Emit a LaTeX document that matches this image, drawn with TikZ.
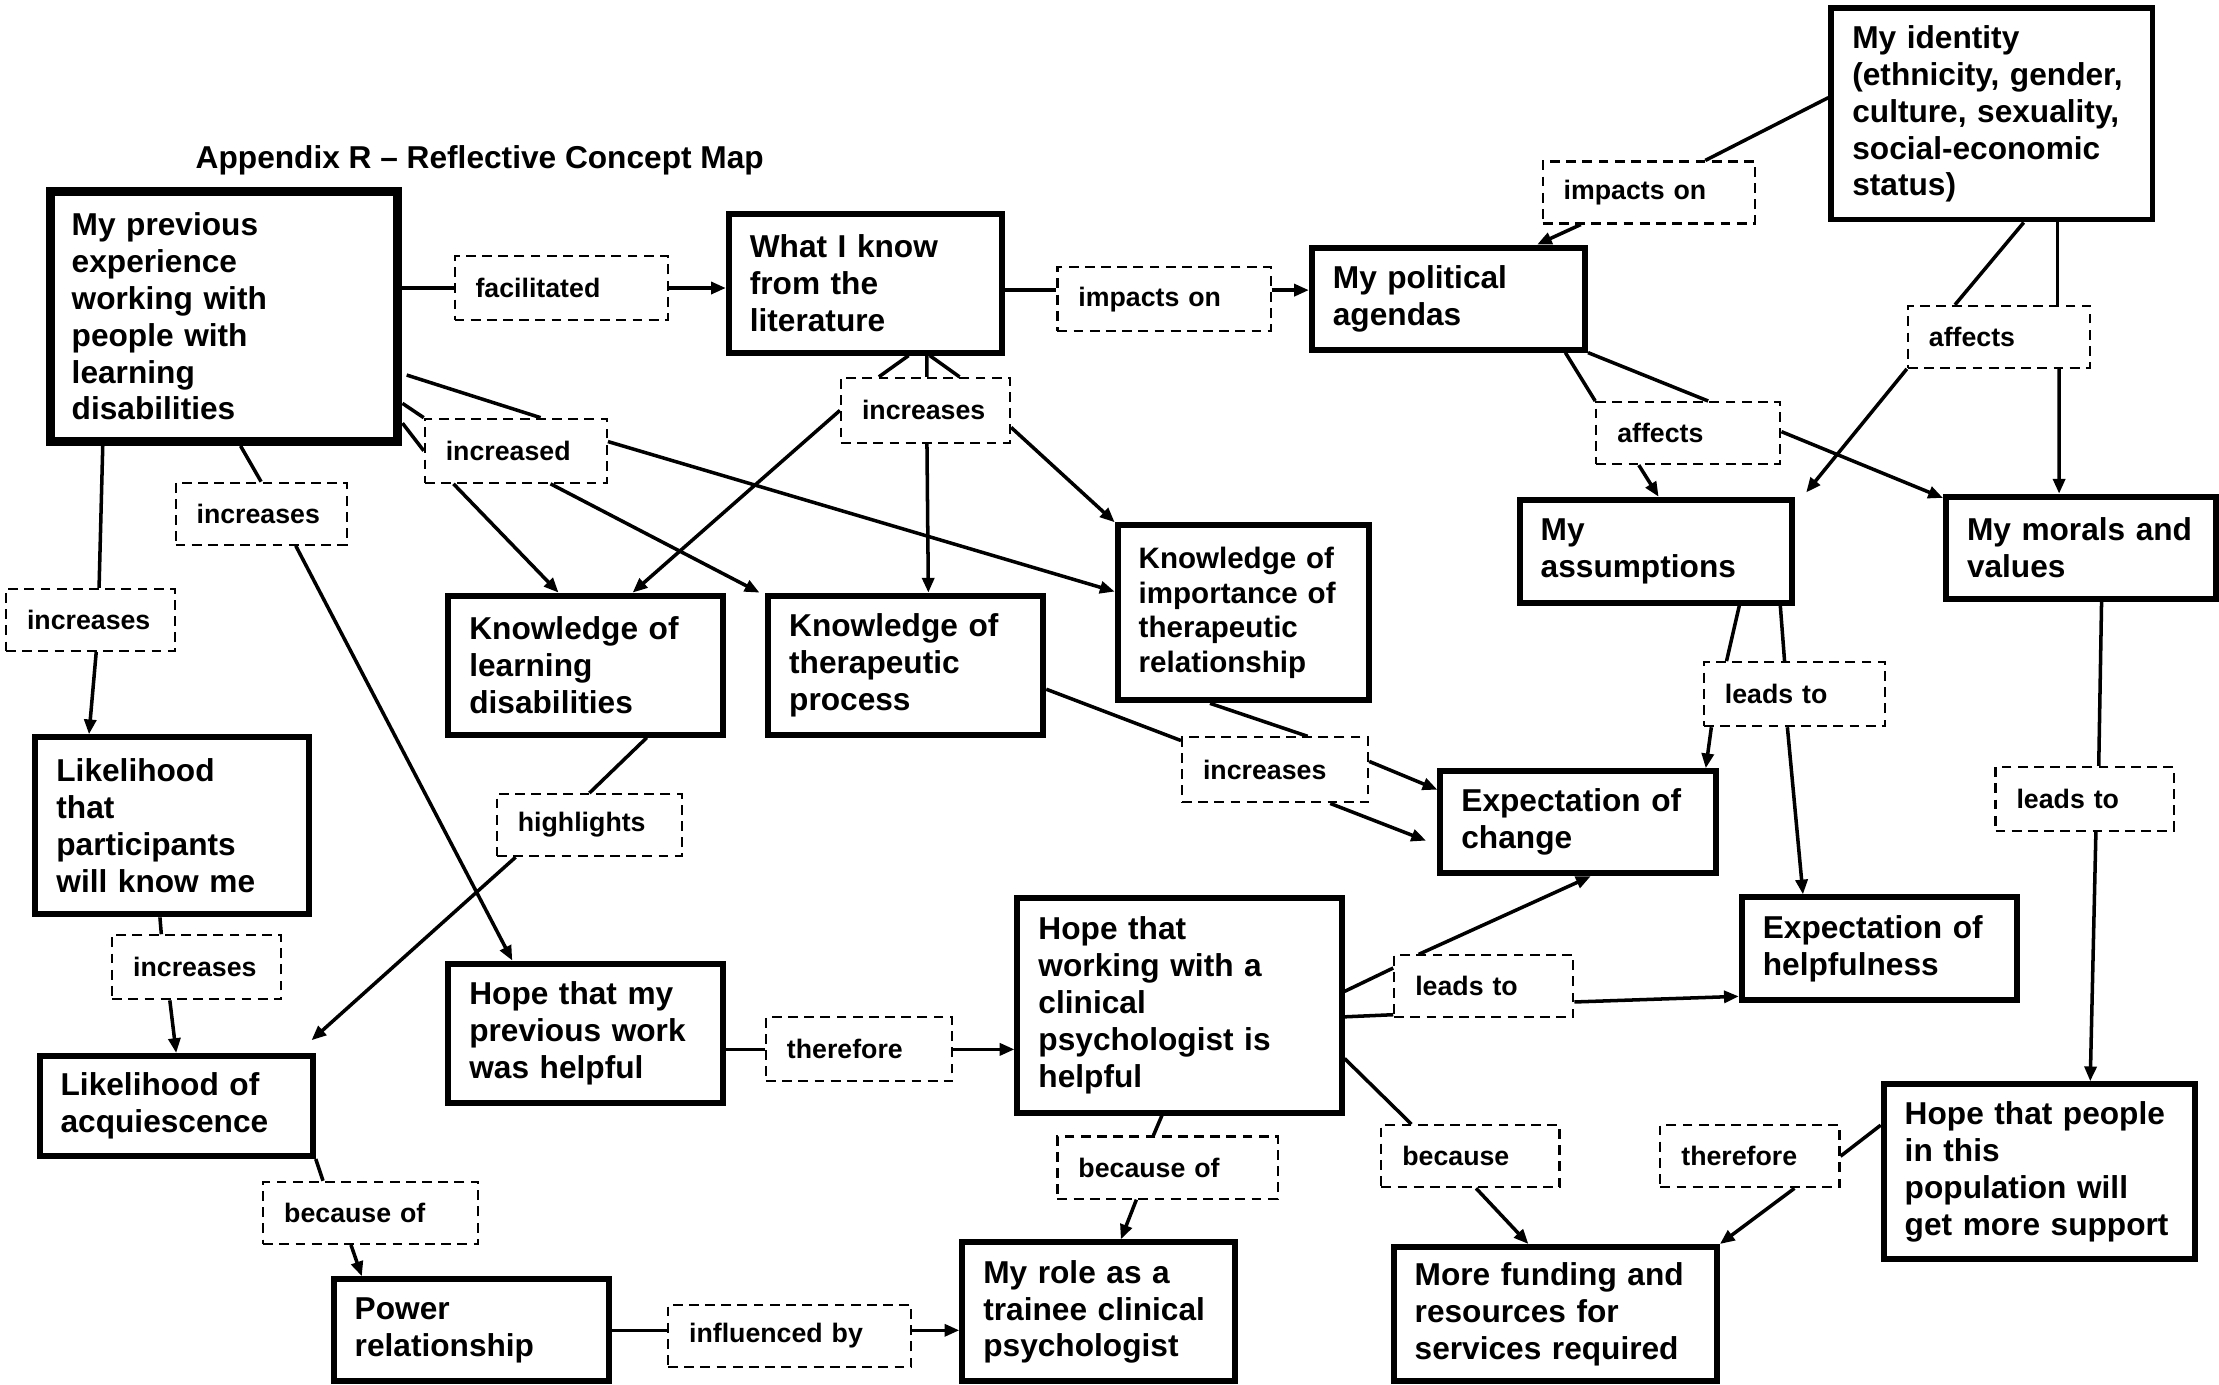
\documentclass[tikz,border=0pt]{standalone}
\usepackage{fontspec}
\setmainfont{Liberation Sans}
\usetikzlibrary{calc,arrows.meta}

\definecolor{shadowbrown}{RGB}{150,110,110}

\tikzset{
	concept/.style={draw, fill=white, line width=1.7pt, align=left, inner xsep=0.21cm, inner ysep=0pt, font=\bfseries\fontsize{9}{10.5}\selectfont},
	linkbox/.style={draw, fill=white, line width=0.6pt, dash pattern=on 2.8pt off 1.8pt, align=left, inner xsep=0.21cm, inner ysep=0pt, font=\bfseries\fontsize{7.6}{9}\selectfont},
	conn/.style={line width=1pt},
	arr/.style={line width=1pt, -{Triangle[length=4.2pt,width=3.4pt]}},
}

\begin{document}
\begin{tikzpicture}[x=0.01415cm, y=-0.01415cm]
		\path[use as bounding box, fill=white] (0,0) rectangle (1568,978);
		
		\node[font=\bfseries\fontsize{9}{10.5}\selectfont] (title) at (339,113) {Appendix R – Reflective Concept Map};
		
		% concepts
		\fill[shadowbrown] (39,138) rectangle (284,315); % shadow of the first box
		\node[concept, line width=2.6pt, text width=3.05cm, minimum height=2.50cm] (prev) at (158.5,223.5) {My previous\\experience\\working with\\people with\\learning\\disabilities};
		\node[concept, text width=2.31cm, minimum height=1.39cm] (lit) at (611.5,200) {What I know\\from the\\literature};
		\node[concept, text width=2.31cm, minimum height=1.02cm] (pol) at (1023.5,211) {My political\\agendas};
		\node[concept, text width=2.79cm, minimum height=2.11cm] (ident) at (1407.5,80.5) {My identity\\(ethnicity, gender,\\culture, sexuality,\\social-economic\\status)};
		\node[concept, text width=2.30cm, minimum height=1.03cm] (assum) at (1170,389.5) {My\\assumptions};
		\node[concept, text width=2.28cm, minimum height=1.02cm] (morals) at (1470.5,387) {My morals and\\values};
		\node[concept, text width=2.33cm, minimum height=1.39cm] (klearn) at (414,470) {Knowledge of\\learning\\disabilities};
		\node[concept, text width=2.33cm, minimum height=1.39cm] (ktp) at (640,470) {Knowledge of\\therapeutic\\process};
		\node[concept, font=\bfseries\fontsize{8.4}{9.8}\selectfont, text width=2.09cm, minimum height=1.75cm] (kimp) at (878.5,433) {Knowledge of\\importance of\\therapeutic\\relationship};
		\node[concept, text width=2.31cm, minimum height=1.77cm] (likeknow) at (121.5,583.5) {Likelihood\\that\\participants\\will know me};
		\node[concept, text width=2.31cm, minimum height=1.00cm] (acq) at (124.5,781.5) {Likelihood of\\acquiescence};
		\node[concept, text width=2.33cm, minimum height=1.02cm] (power) at (333,940) {Power\\relationship};
		\node[concept, text width=2.33cm, minimum height=1.39cm] (hopeprev) at (414,730) {Hope that my\\previous work\\was helpful};
		\node[concept, text width=2.82cm, minimum height=2.14cm] (hopeclin) at (833.5,710.5) {Hope that\\working with a\\clinical\\psychologist is\\helpful};
		\node[concept, text width=2.33cm, minimum height=1.02cm] (expchange) at (1115,581) {Expectation of\\change};
		\node[concept, text width=2.33cm, minimum height=1.03cm] (exphelp) at (1328,670.5) {Expectation of\\helpfulness};
		\node[concept, text width=2.31cm, minimum height=1.39cm] (role) at (776.5,927) {My role as a\\trainee clinical\\psychologist};
		\node[concept, text width=2.81cm, minimum height=1.34cm] (funding) at (1099,928.5) {More funding and\\resources for\\services required};
		\node[concept, text width=2.69cm, minimum height=1.75cm] (hopepop) at (1441,828) {Hope that people\\in this\\population will\\get more support};
		
		% link words
		\node[linkbox, text width=1.71cm, minimum height=0.64cm] (facil) at (396.5,203.5) {facilitated};
		\node[linkbox, text width=1.71cm, minimum height=0.64cm] (imp1) at (822.5,211.5) {impacts on};
		\node[linkbox, text width=1.70cm, minimum height=0.62cm] (imp2) at (1165,136) {impacts on};
		\node[linkbox, text width=1.27cm, minimum height=0.65cm] (incLit) at (654,290) {increases};
		\node[linkbox, text width=1.40cm, minimum height=0.64cm] (incd) at (364.5,318.5) {increased};
		\node[linkbox, text width=1.29cm, minimum height=0.62cm] (incF) at (184.5,363) {increases};
		\node[linkbox, text width=1.27cm, minimum height=0.62cm] (incG) at (64,438) {increases};
		\node[linkbox, text width=1.42cm, minimum height=0.62cm] (affPol) at (1193,306) {affects};
		\node[linkbox, text width=1.40cm, minimum height=0.62cm] (affId) at (1412.5,238) {affects};
		\node[linkbox, text width=1.39cm, minimum height=0.64cm] (leadsA) at (1268,490.5) {leads to};
		\node[linkbox, text width=1.36cm, minimum height=0.64cm] (leadsM) at (1473,564.5) {leads to};
		\node[linkbox, text width=1.44cm, minimum height=0.65cm] (incL) at (901,544) {increases};
		\node[linkbox, text width=1.43cm, minimum height=0.62cm] (highl) at (416.5,583) {highlights};
		\node[linkbox, text width=1.27cm, minimum height=0.64cm] (incN) at (139,683.5) {increases};
		\node[linkbox, text width=1.44cm, minimum height=0.64cm] (there1) at (607,741.5) {therefore};
		\node[linkbox, text width=1.37cm, minimum height=0.62cm] (leadsH) at (1048.5,697) {leads to};
		\node[linkbox, text width=1.78cm, minimum height=0.62cm] (becOf1) at (825,825) {because of};
		\node[linkbox, text width=1.36cm, minimum height=0.62cm] (bec) at (1039,817) {because};
		\node[linkbox, text width=1.37cm, minimum height=0.62cm] (there2) at (1236.5,817) {therefore};
		\node[linkbox, text width=1.73cm, minimum height=0.62cm] (becOf2) at (262,857) {because of};
		\node[linkbox, text width=2.01cm, minimum height=0.62cm] (infl) at (558,944) {influenced by};
		
		% top row
		\draw[conn] (prev.east |- facil.west) -- (facil.west);
		\draw[arr] (facil.east) -- (facil.east -| lit.west);
		\draw[conn] ($(lit.east)+(0,5)$) -- ($(imp1.west)+(0,-6.5)$);
		\draw[arr] ($(imp1.east)+(0,-6.5)$) -- ($(pol.west)+(0,-6)$);
		\draw[conn] ($(ident.west)+(0,-11.5)$) -- ($(imp2.north)+(40,0)$);
		\draw[arr] ($(imp2.south)+(-48,0)$) -- ($(pol.north east)+(-36,0)$);
		
		% literature
		\draw[conn] ($(lit.south)+(30.5,0)$) -- ($(incLit.north)+(-33,0)$);
		\draw[conn] ($(lit.south)+(43.5,0)$) -- ($(incLit.north)+(1,0)$);
		\draw[conn] ($(lit.south)+(45.5,0)$) -- ($(incLit.north)+(24,0)$);
		\draw[arr] (incLit.west) -- ($(klearn.north)+(33,0)$);
		\draw[arr] ($(incLit.south)+(1,0)$) -- ($(ktp.north)+(16,0)$);
		\draw[arr] ($(incLit.east)+(0,12)$) -- (kimp.north west);
		
		% previous experience
		\draw[conn] ($(prev.east)+(3,41.5)$) -- ($(incd.north)+(17.5,0)$);
		\draw[conn] ($(prev.east)+(0,61.5)$) -- (incd.north west);
		\draw[conn] ($(prev.east)+(0,75.5)$) -- (incd.west);
		\draw[arr] ($(incd.east)+(0,-6.5)$) -- ($(kimp.west)+(0,-15)$);
		\draw[arr] ($(incd.south west)+(21,0)$) -- ($(klearn.north west)+(80,0)$);
		\draw[arr] ($(incd.south)+(24.5,0)$) -- ($(ktp.north west)+(-4,0)$);
		\draw[conn] ($(prev.south)+(11.5,0)$) -- (incF.north);
		\draw[arr] ($(incF.south)+(24.5,0)$) -- ($(hopeprev.north)+(-52,0)$);
		\draw[conn] ($(prev.south west)+(40,0)$) -- ($(incG.north)+(6,0)$);
		\draw[arr] ($(incG.south)+(4,0)$) -- ($(likeknow.north west)+(40,0)$);
		
		% left column
		\draw[conn] ($(likeknow.south)+(-8.5,0)$) -- ($(incN.north)+(-25,0)$);
		\draw[arr] ($(incN.south)+(-19,0)$) -- (acq.north);
		\draw[conn] ($(klearn.south)+(43,0)$) -- (highl.north);
		\draw[arr] ($(highl.south west)+(14,0)$) -- ($(acq.north east)+(-3,-9)$);
		\draw[conn] (acq.south east) -- ($(becOf2.north west)+(43,0)$);
		\draw[arr] ($(becOf2.south)+(-14,0)$) -- ($(power.north west)+(22,0)$);
		\draw[conn] (power.east) -- (power.east -| infl.west);
		\draw[arr] (power.east -| infl.east) -- (power.east -| role.west);
		
		% hope
		\draw[conn] (hopeprev.east |- there1.west) -- (there1.west);
		\draw[arr] (there1.east) -- (there1.east -| hopeclin.west);
		\draw[conn] ($(hopeclin.south)+(-12.5,0)$) -- ($(becOf1.north)+(-10,0)$);
		\draw[arr] ($(becOf1.south)+(-22,0)$) -- ($(role.north)+(15.5,0)$);
		\draw[conn] ($(hopeclin.east)+(0,-10)$) -- ($(leadsH.west)+(0,-13)$);
		\draw[conn] ($(hopeclin.east)+(0,8)$) -- ($(leadsH.west)+(0,20)$);
		\draw[arr] ($(leadsH.north west)+(18,0)$) -- ($(expchange.south)+(9,0)$);
		\draw[arr] ($(leadsH.east)+(0,11)$) -- ($(exphelp.south west)+(0,-5)$);
		\draw[conn] ($(hopeclin.east)+(0,37.5)$) -- ($(bec.north west)+(22,0)$);
		\draw[arr] ($(bec.south)+(4,0)$) -- ($(funding.north)+(-19,0)$);
		\draw[conn] ($(hopepop.north west)+(0,31)$) -- (there2.east);
		\draw[arr] ($(there2.south)+(31.5,0)$) -- (funding.north east);
		
		% right side
		\draw[conn] ($(morals.south)+(14.5,0)$) -- ($(leadsM.north)+(10,0)$);
		\draw[arr] ($(leadsM.south)+(8,0)$) -- ($(hopepop.north)+(36,0)$);
		\draw[conn] ($(ident.south)+(22.5,0)$) -- ($(affId.north west)+(34,0)$);
		\draw[conn] ($(ident.south)+(46.5,0)$) -- ($(affId.north)+(41.5,0)$);
		\draw[arr] (affId.south west) -- ($(assum.north east)+(8,-3)$);
		\draw[arr] ($(affId.south)+(42.5,0)$) -- ($(morals.north)+(-15.5,0)$);
		\draw[conn] ($(pol.south east)+(-16,0)$) -- (affPol.north west);
		\draw[conn] (pol.south east) -- ($(affPol.north)+(14,0)$);
		\draw[arr] ($(affPol.south)+(-35,0)$) -- ($(assum.north)+(2,0)$);
		\draw[arr] ($(affPol.east)+(0,-1)$) -- ($(morals.north west)+(0,3)$);
		\draw[conn] ($(assum.south)+(59,0)$) -- ($(leadsA.north)+(-48,0)$);
		\draw[conn] ($(assum.south)+(88,0)$) -- ($(leadsA.north)+(-7,0)$);
		\draw[arr] ($(leadsA.south west)+(6,0)$) -- ($(expchange.north east)+(-9,0)$);
		\draw[arr] ($(leadsA.south)+(-5,0)$) -- ($(exphelp.north)+(-54,0)$);
		
		% knowledge -> expectation
		\draw[conn] ($(ktp.east)+(0,17)$) -- ($(incL.north west)+(0,3)$);
		\draw[conn] ($(kimp.south)+(-23.5,0)$) -- ($(incL.north)+(23,0)$);
		\draw[arr] ($(incL.east)+(0,-6)$) -- ($(expchange.west)+(0,-23)$);
		\draw[arr] ($(incL.south)+(39,0)$) -- ($(expchange.west)+(-8,13)$);
	\end{tikzpicture}
\end{document}
